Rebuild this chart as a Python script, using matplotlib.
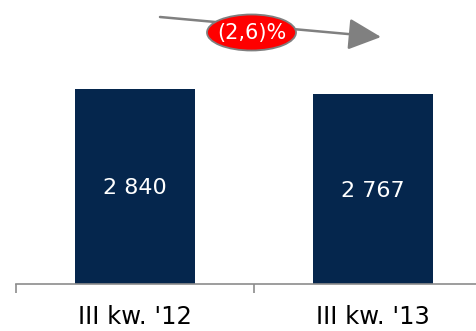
import matplotlib
matplotlib.use("Agg")
import matplotlib.pyplot as plt
from matplotlib.patches import Ellipse, FancyArrowPatch

categories = ["III kw. '12", "III kw. '13"]
values = [2840, 2767]
value_labels = ["2 840", "2 767"]
change_label = "(2,6)%"

W, H = 477, 331
fig = plt.figure(figsize=(W / 100, H / 100), dpi=100)
ax = fig.add_axes([16 / W, (H - 284) / H, 1 - 16 / W, 284 / H])

bar_color = "#05264d"
x = list(range(len(categories)))
ax.bar(x, values, width=0.505, color=bar_color, zorder=2)
for xi, v, lab in zip(x, values, value_labels):
    ax.text(xi, v * 0.49, lab, ha="center", va="center", color="white",
            fontsize=16, family="DejaVu Sans")

ax.set_xlim(-0.5, 1.437)
ax.set_ylim(0, 2840 * 284 / 195)

for s in ["top", "right", "left"]:
    ax.spines[s].set_visible(False)
ax.spines["bottom"].set_color("#8c8c8c")
ax.spines["bottom"].set_linewidth(1.2)
ax.set_yticks([])
ax.set_xticks(x)
ax.set_xticklabels(categories, fontsize=17.5, family="DejaVu Sans")
ax.tick_params(axis="x", which="major", length=0, pad=15)
ax.set_xticks([-0.5, 0.5], minor=True)
ax.tick_params(axis="x", which="minor", length=6.5, width=1.2, color="#8c8c8c",
               direction="out")

def fx(px):
    return px / W

def fy(py):
    return 1 - py / H

arrow = FancyArrowPatch((fx(160), fy(17)), (fx(381), fy(37)),
                        transform=fig.transFigure,
                        arrowstyle="-|>,head_length=1.35,head_width=0.65",
                        mutation_scale=15, color="#808080", linewidth=1.8,
                        shrinkA=0, shrinkB=0)
fig.add_artist(arrow)

ell = Ellipse((fx(251.5), fy(32.5)), 89 / W, 36 / H, transform=fig.transFigure,
              facecolor="#ff0000", edgecolor="#7f7f7f", linewidth=1.3, zorder=5)
fig.add_artist(ell)
fig.text(fx(251.5), fy(32.5), change_label, ha="center", va="center",
         color="white", fontsize=15, family="DejaVu Sans", zorder=6)

fig.savefig("out.png", dpi=100)
